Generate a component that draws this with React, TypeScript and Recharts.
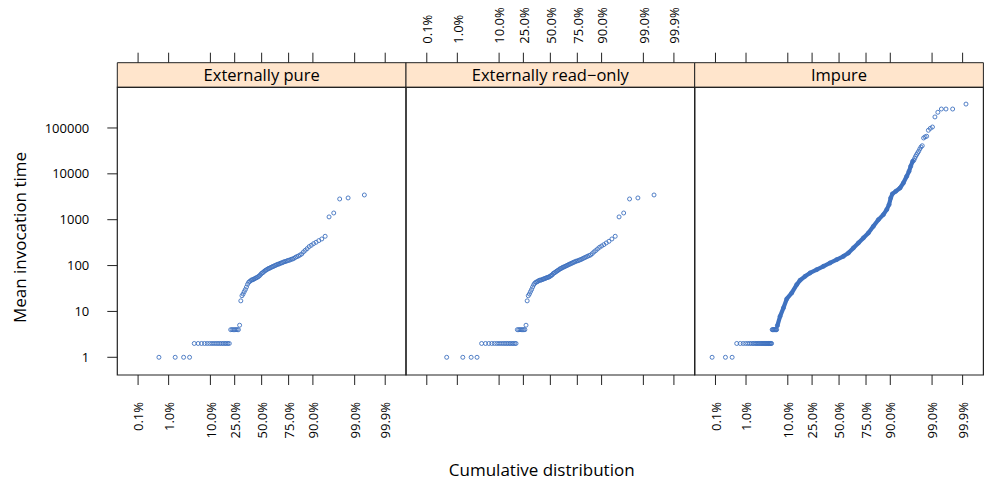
import { ScatterChart, Scatter, XAxis, YAxis, ReferenceArea } from "recharts";

// normal probability plot of mean invocation times, one panel per purity class

const FONT = '"Open Sans", sans-serif';
const POINT_COLOR = "#3F72C0";
const STRIP_FILL = "#FFE5CC";
const FRAME = "#222222";
const TEXT = "#000000";

const TICK_PCT = [0.1, 1, 10, 25, 50, 75, 90, 99, 99.9];
const Y_TICKS = [1, 10, 100, 1000, 10000, 100000];
const PANEL_NAMES = ["Externally pure", "Externally read\u2212only", "Impure"];

// sorted mean invocation times, every method of the class
const PURE_TIMES = [
  1, 1, 1, 1,
  2, 2, 2, 2, 2, 2, 2, 2, 2, 2, 2, 2, 2, 2, 2, 2, 2,
  4, 4, 4, 4, 4, 4, 4, 5,
  17, 22, 24, 27, 30, 34, 39, 43, 45, 47, 49, 49, 51, 52, 54, 55, 57, 59, 62, 66,
  69, 71, 75, 78, 80, 83, 86, 87, 90, 92, 95, 96, 100, 101, 105, 107, 108, 112, 114, 116,
  120, 122, 124, 128, 130, 132, 137, 139, 144, 151, 157, 162, 170, 179, 198, 215, 234, 259,
  277, 301, 322, 350, 380, 435, 1150, 1400, 2830, 2980, 3460,
];

const READONLY_TIMES = [
  1, 1, 1, 1,
  2, 2, 2, 2, 2, 2, 2, 2, 2, 2, 2, 2, 2, 2, 2, 2, 2,
  4, 4, 4, 4, 4, 4, 4, 5,
  17, 22, 24, 27, 30, 34, 38, 41, 43, 44, 45, 47, 48, 48, 49, 50, 51, 52, 53, 54, 55,
  56, 57, 59, 61, 63, 67, 69, 71, 74, 76, 79, 81, 85, 86, 89, 92, 93, 96, 98, 101, 103,
  107, 108, 112, 114, 118, 120, 124, 126, 128, 132, 135, 139, 144, 149, 154, 159, 165, 170,
  182, 198, 212, 230, 250, 267, 286, 311, 338, 380, 435, 1150, 1400, 2830, 2980, 3460,
];

// impure: 667 methods; the outlying ranks are listed one by one,
// the dense middle is traced by cumulative percent
const IMPURE_N = 667;
const IMPURE_LOW_TIMES = [
  1, 1, 1,
  2, 2, 2, 2, 2, 2, 2, 2, 2, 2, 2, 2, 2, 2, 2, 2, 2, 2, 2, 2, 2, 2, 2, 2, 2, 2, 2, 2,
  4, 4, 4, 4, 4, 4, 4, 4, 4,
];
const IMPURE_HIGH_TIMES = [
  19700, 21800, 24100, 26200, 28500, 31000, 34800, 38500, 41000, 60500, 64000,
  66000, 89000, 98000, 105000, 174000, 220000, 259000, 259000, 259000, 332000,
];
const IMPURE_BODY_PCT = [
  6.15, 7.01, 8.2, 9.54, 11.84, 14.5, 16.48, 19.77, 23.42, 28.84, 34.75, 41.1, 47.69,
  54.3, 59.21, 63.98, 68.55, 72.84, 76.82, 80.46, 83.72, 86.61, 88.34, 89.44, 90.18,
  90.87, 92.18, 93.64, 94.61, 95.47, 95.99, 96.34, 96.73,
];
const IMPURE_BODY_TIME = [
  4.9, 7.8, 11.9, 18.7, 25.3, 38.4, 47.8, 58.3, 69, 81.5, 96.4, 114, 135,
  159, 188, 242, 311, 400, 514, 718, 1000, 1290, 1660, 2130, 2980,
  3640, 4160, 4920, 6320, 8830, 11350, 14600, 18750,
];

// layout
const W = 984;
const H = 480;
const PANEL_X = [117.3, 406, 694.7];
const PANEL_W = 288.7;
const PLOT_TOP = 62.7;
const PLOT_BOTTOM = 375;
const Z_LIM = 3.61;
const Y_MIN = 0.411;
const Y_MAX = 2.65e6;
const STRIP_LOW = 7.69e5;

// inverse normal cdf (Acklam)
function qnorm(p: number): number {
  const a = [-39.69683028665376, 220.9460984245205, -275.9285104469687, 138.357751867269, -30.66479806614716, 2.506628277459239];
  const b = [-54.47609879822406, 161.5858368580409, -155.6989798598866, 66.80131188771972, -13.28068155288572];
  const c = [-0.007784894002430293, -0.3223964580411365, -2.400758277161838, -2.549732539343734, 4.374664141464968, 2.938163982698783];
  const d = [0.007784695709041462, 0.3224671290700398, 2.445134137142996, 3.754408661907416];
  const lo = 0.02425;
  if (p < lo) {
    const q = Math.sqrt(-2 * Math.log(p));
    return (((((c[0] * q + c[1]) * q + c[2]) * q + c[3]) * q + c[4]) * q + c[5]) /
      ((((d[0] * q + d[1]) * q + d[2]) * q + d[3]) * q + 1);
  }
  if (p > 1 - lo) {
    const q = Math.sqrt(-2 * Math.log(1 - p));
    return -(((((c[0] * q + c[1]) * q + c[2]) * q + c[3]) * q + c[4]) * q + c[5]) /
      ((((d[0] * q + d[1]) * q + d[2]) * q + d[3]) * q + 1);
  }
  const q = p - 0.5;
  const r = q * q;
  return (((((a[0] * r + a[1]) * r + a[2]) * r + a[3]) * r + a[4]) * r + a[5]) * q /
    (((((b[0] * r + b[1]) * r + b[2]) * r + b[3]) * r + b[4]) * r + 1);
}

const TICK_Z = TICK_PCT.map((p) => qnorm(p / 100));
const TICK_LABELS = TICK_PCT.map((p) => p.toFixed(1) + "%");

// plotting positions (i - 0.5) / n, as qqmath does
function qqPoints(times: number[], n: number, firstRank: number) {
  return times.map((t, i) => ({ x: qnorm((firstRank + i - 0.5) / n), y: t }));
}

const pureData = qqPoints(PURE_TIMES, PURE_TIMES.length, 1);
const readonlyData = qqPoints(READONLY_TIMES, READONLY_TIMES.length, 1);
const impureData = [
  ...qqPoints(IMPURE_LOW_TIMES, IMPURE_N, 1),
  ...qqPoints(IMPURE_HIGH_TIMES, IMPURE_N, IMPURE_N - IMPURE_HIGH_TIMES.length + 1),
];
const impureBody = IMPURE_BODY_PCT.map((p, i) => ({ x: qnorm(p / 100), y: IMPURE_BODY_TIME[i] }));

function tickLabel(z: number) {
  const i = TICK_Z.findIndex((t) => Math.abs(t - z) < 1e-9);
  return i >= 0 ? TICK_LABELS[i] : "";
}

function BottomTick(props: any) {
  const { x, y, payload } = props;
  return (
    <text
      transform={`translate(${x},${y}) rotate(-90)`}
      textAnchor="end"
      dy="0.4em"
      fontSize={13}
      fontFamily={FONT}
      fill={TEXT}
    >
      {tickLabel(payload.value)}
    </text>
  );
}

function TopTick(props: any) {
  const { x, y, payload } = props;
  return (
    <text
      transform={`translate(${x},${y}) rotate(-90)`}
      textAnchor="start"
      dy="0.4em"
      fontSize={13}
      fontFamily={FONT}
      fill={TEXT}
    >
      {tickLabel(payload.value)}
    </text>
  );
}

function NoTick() {
  return null;
}

const ring = (props: any) => (
  <circle cx={props.cx} cy={props.cy} r={2} fill="none" stroke={POINT_COLOR} strokeWidth={0.9} />
);

interface PanelProps {
  index: number;
  points: { x: number; y: number }[];
  body?: { x: number; y: number }[];
}

function Panel({ index, points, body }: PanelProps) {
  const left = PANEL_X[index];
  const showY = index === 0;
  const bottomLabels = index !== 1;
  const topLabels = index === 1;

  return (
    <ScatterChart
      width={W}
      height={H}
      margin={{ top: 0, right: W - left - PANEL_W, bottom: 0, left: showY ? 0 : left }}
    >
      <XAxis
        xAxisId="b"
        type="number"
        dataKey="x"
        orientation="bottom"
        domain={[-Z_LIM, Z_LIM]}
        allowDataOverflow
        ticks={TICK_Z}
        interval={0}
        height={H - PLOT_BOTTOM}
        tickSize={10}
        tickMargin={17}
        axisLine={false}
        tickLine={{ stroke: FRAME }}
        tick={bottomLabels ? <BottomTick /> : <NoTick />}
        label={
          index === 1
            ? {
                content: () => (
                  <text x={541.7} y={476} textAnchor="middle" fontSize={17} fontFamily={FONT} fill={TEXT}>
                    Cumulative distribution
                  </text>
                ),
              }
            : undefined
        }
      />
      <XAxis
        xAxisId="t"
        type="number"
        dataKey="x"
        orientation="top"
        domain={[-Z_LIM, Z_LIM]}
        allowDataOverflow
        ticks={TICK_Z}
        interval={0}
        height={PLOT_TOP}
        tickSize={10}
        tickMargin={9}
        axisLine={false}
        tickLine={{ stroke: FRAME }}
        tick={topLabels ? <TopTick /> : <NoTick />}
      />
      <YAxis
        yAxisId="y"
        type="number"
        dataKey="y"
        scale="log"
        domain={[Y_MIN, Y_MAX]}
        allowDataOverflow
        ticks={Y_TICKS}
        interval={0}
        hide={!showY}
        width={PANEL_X[0]}
        tickSize={10}
        tickMargin={18}
        axisLine={false}
        tickLine={{ stroke: FRAME }}
        tick={{ fontSize: 13, fill: TEXT, fontFamily: FONT }}
        label={{
          content: () => (
            <text
              transform="translate(25.5,237.5) rotate(-90)"
              textAnchor="middle"
              fontSize={17}
              fontFamily={FONT}
              fill={TEXT}
            >
              Mean invocation time
            </text>
          ),
        }}
      />
      <ReferenceArea
        xAxisId="t"
        yAxisId="y"
        x1={-Z_LIM}
        x2={Z_LIM}
        y1={STRIP_LOW}
        y2={Y_MAX}
        ifOverflow="visible"
        fill={STRIP_FILL}
        fillOpacity={1}
        stroke={FRAME}
        strokeWidth={1}
        label={{ value: PANEL_NAMES[index], position: "center", fontSize: 16.5, fill: TEXT, fontFamily: FONT }}
      />
      <ReferenceArea
        xAxisId="t"
        yAxisId="y"
        x1={-Z_LIM}
        x2={Z_LIM}
        y1={Y_MIN}
        y2={STRIP_LOW}
        ifOverflow="visible"
        fill="none"
        fillOpacity={0}
        stroke={FRAME}
        strokeWidth={1.2}
      />
      {body && (
        <Scatter
          xAxisId="b"
          yAxisId="y"
          data={body}
          fill={POINT_COLOR}
          line={{ stroke: POINT_COLOR, strokeWidth: 4.2, strokeLinejoin: "round", strokeLinecap: "round" }}
          shape={ring}
          isAnimationActive={false}
        />
      )}
      <Scatter
        xAxisId="b"
        yAxisId="y"
        data={points}
        fill={POINT_COLOR}
        shape={ring}
        isAnimationActive={false}
      />
    </ScatterChart>
  );
}

export default function App() {
  return (
    <div style={{ position: "absolute", left: 0, top: 0, width: W, height: H, background: "#ffffff" }}>
      <div style={{ position: "absolute", left: 0, top: 0 }}>
        <Panel index={0} points={pureData} />
      </div>
      <div style={{ position: "absolute", left: 0, top: 0 }}>
        <Panel index={1} points={readonlyData} />
      </div>
      <div style={{ position: "absolute", left: 0, top: 0 }}>
        <Panel index={2} points={impureData} body={impureBody} />
      </div>
    </div>
  );
}
